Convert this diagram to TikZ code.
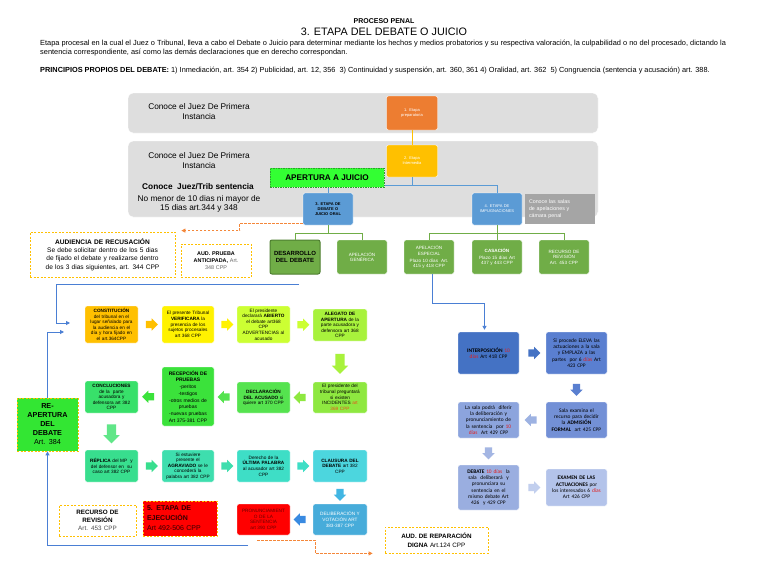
\documentclass[tikz,border=0pt]{standalone}
\usepackage{fontspec}
\setmainfont{Liberation Sans}
\newfontfamily\calibri{Carlito}
\usetikzlibrary{arrows.meta,positioning,shapes.arrows,calc}

\definecolor{bandgray}{HTML}{DEDEDE}
\definecolor{etorange}{HTML}{ED7D31}
\definecolor{gold}{HTML}{FFC000}
\definecolor{apgreen}{HTML}{33FF33}
\definecolor{apborder}{HTML}{2E9E2E}
\definecolor{stblue}{HTML}{5B9BD5}
\definecolor{salasgray}{HTML}{A5A5A5}
\definecolor{midgreen}{HTML}{70AD47}
\definecolor{ddborder}{HTML}{4E7F30}
\definecolor{lineblue}{HTML}{4A7FD4}
\definecolor{dashorange}{HTML}{F4873A}
\definecolor{incred}{HTML}{E8501C}
\definecolor{diasred}{HTML}{E02020}
\definecolor{darkred}{HTML}{6A0000}
\definecolor{fA}{HTML}{FFC000}
\definecolor{fB}{HTML}{FFF200}
\definecolor{fC}{HTML}{CCFF33}
\definecolor{fD}{HTML}{A8F23C}
\definecolor{fE}{HTML}{8EE840}
\definecolor{fF}{HTML}{55E34F}
\definecolor{fG}{HTML}{3BE23B}
\definecolor{fH}{HTML}{38E06A}
\definecolor{fI}{HTML}{38DE8E}
\definecolor{fJ}{HTML}{3EDEAE}
\definecolor{fK}{HTML}{3EDEC6}
\definecolor{fL}{HTML}{4CD6DE}
\definecolor{fM}{HTML}{47ACDA}
\definecolor{reagreen}{HTML}{33E633}
\definecolor{iA}{HTML}{4472C4}
\definecolor{iB}{HTML}{5A7FD0}
\definecolor{iC}{HTML}{7390D6}
\definecolor{iD}{HTML}{8CA4DD}
\definecolor{iE}{HTML}{9AAEE0}
\definecolor{iF}{HTML}{B3C3EA}

\begin{document}
\begin{tikzpicture}[x=1pt,y=-1pt,
  >={Triangle[length=4pt,width=4pt]},
  band/.style={fill=bandgray,draw=white,rounded corners=5pt},
  stage/.style={rounded corners=2pt,draw=white,align=center,inner sep=1pt,font=\fontsize{4}{4.8}\selectfont},
  flow/.style={rounded corners=2pt,draw=white,align=center,inner sep=1pt,font=\fontsize{4.7}{5.6}\selectfont},
  dashbox/.style={draw=gold,dash pattern=on 2pt off 1.5pt,line width=0.8pt,fill=white,align=center,inner sep=1pt},
  impbox/.style={rounded corners=2pt,draw=white,align=center,inner sep=1pt,font=\calibri\fontsize{5.4}{6.2}\selectfont},
  farrow/.style={single arrow,draw=none,inner sep=3.5pt,minimum height=12pt,single arrow head extend=2.5pt},
  bigarrow/.style={farrow,inner sep=4.5pt,single arrow head extend=3.5pt},
  bline/.style={draw=lineblue,line width=0.9pt},
  sline/.style={draw=stblue,line width=0.6pt},
  gline/.style={draw=midgreen,line width=0.7pt},
  odash/.style={draw=dashorange,dash pattern=on 2.5pt off 1.5pt,line width=0.8pt}]

  \fill[white] (0,0) rectangle (768,576);
  \useasboundingbox (0,0) rectangle (768,576);

  % Header
  \node[font=\bfseries\fontsize{7}{8}\selectfont] (proc) at (384,21) {PROCESO PENAL};
  \node[font=\fontsize{10.8}{12}\selectfont] (titulo) at (384,31.5) {3. ETAPA DEL DEBATE O JUICIO};
  \node[anchor=north west,inner sep=0pt,align=left,font=\fontsize{7.4}{9}\selectfont] (intro) at (40,40)
    {Etapa procesal en la cual el Juez o Tribunal, lleva a cabo el Debate o Juicio para determinar mediante los hechos y medios probatorios y su respectiva valoración, la culpabilidad o no del procesado, dictando la\\
     sentencia correspondiente, así como las demás declaraciones que en derecho correspondan.};
  \node[anchor=west,inner sep=0pt,font=\fontsize{7.35}{8}\selectfont] (princ) at (40,71)
    {\textbf{PRINCIPIOS PROPIOS DEL DEBATE:} 1) Inmediación, art. 354 2) Publicidad, art. 12, 356\ \ 3) Continuidad y suspensión, art. 360, 361 4) Oralidad, art. 362\ \ 5) Congruencia (sentencia y acusación) art. 388.};

  % Gray bands
  \node[band,minimum width=470,minimum height=40] (band1) at (363,113) {};
  \node[band,minimum width=470,minimum height=76] (band2) at (363,179) {};
  \node[align=center,font=\fontsize{8.3}{10}\selectfont] (juez1) at (199,112) {Conoce el Juez De Primera\\Instancia};
  \node[align=center,font=\fontsize{8.3}{10}\selectfont] (juez2) at (199,160.5) {Conoce el Juez De Primera\\Instancia};
  \node[font=\bfseries\fontsize{8.3}{10}\selectfont] (trib) at (198,187) {Conoce\ \ Juez/Trib sentencia};
  \node[align=center,font=\fontsize{8.3}{9.5}\selectfont] (plazo) at (199,204) {No menor de 10 dias ni mayor de\\15 dias art.344 y 348};

  % Stages
  \node[stage,fill=etorange,text=white,minimum width=51,minimum height=34,text width=46] (et1) at (412,113) {1. Etapa\\preparatoria};
  \node[stage,fill=gold,text=white,minimum width=51,minimum height=32,text width=46] (et2) at (412,161) {2. Etapa\\Intermedia};
  \node[stage,fill=stblue,font=\bfseries\fontsize{4}{4.8}\selectfont,minimum width=50,minimum height=32,text width=46] (et3) at (328,209) {3. ETAPA DE\\DEBATE O\\JUICIO ORAL};
  \node[stage,fill=stblue,text=white,minimum width=50,minimum height=32,text width=46] (et4) at (497,209) {4. ETAPA DE\\IMPUGNACIONES};
  \node[fill=salasgray,text=white,align=left,inner sep=3pt,minimum width=70,minimum height=30,text width=62,font=\fontsize{5.3}{7}\selectfont] (salas) at (560,209) {Conoce las salas\\de apelaciones y\\cámara penal};

  \draw[draw=gold,line width=0.7pt] (et1) -- (et2);
  \draw[sline] (et2.south) -- ++(0,8) -| (et3.north);
  \draw[sline] (et2.south) -- ++(0,8) -| (et4.north);

  \node[fill=apgreen,draw=apborder,dash pattern=on 1.5pt off 1pt,line width=0.8pt,minimum width=114,minimum height=19,inner sep=0pt,font=\bfseries\fontsize{8.2}{9}\selectfont] (apert) at (327,177.5) {APERTURA A JUICIO};

  % Green row
  \node[stage,fill=midgreen,draw=ddborder,line width=1pt,font=\bfseries\fontsize{6}{7}\selectfont,minimum width=50,minimum height=34,text width=46] (desa) at (295,257) {DESARROLLO\\DEL DEBATE};
  \node[stage,fill=midgreen,text=white,font=\fontsize{4.6}{5.5}\selectfont,minimum width=50,minimum height=34,text width=46] (apgen) at (362,257) {APELACIÓN\\GENÉRICA};
  \node[stage,fill=midgreen,text=white,font=\fontsize{4.6}{5.5}\selectfont,minimum width=50,minimum height=34,text width=46] (apesp) at (429,257) {APELACIÓN\\ESPECIAL\\[1.5pt]Plazo 10 días\ \ Art.\\415 y 418 CPP};
  \node[stage,fill=midgreen,text=white,font=\fontsize{4.6}{5.5}\selectfont,minimum width=50,minimum height=34,text width=46] (casa) at (497,257) {\textbf{CASACIÓN}\\[1.5pt]Plazo 15 días Art\\437 y 443 CPP};
  \node[stage,fill=midgreen,text=white,font=\fontsize{4.6}{5.5}\selectfont,minimum width=50,minimum height=34,text width=46] (recrev) at (564,257) {RECURSO DE\\REVISIÓN\\Art. 453 CPP};

  \draw[gline] (et3.south) -- ++(0,8) -| (desa.north);
  \draw[gline] (et3.south) -- ++(0,8) -| (apgen.north);
  \draw[gline] (et4.south) -- ++(0,8) -| (apesp.north);
  \draw[gline] (et4.south) -- (casa.north);
  \draw[gline] (et4.south) -- ++(0,8) -| (recrev.north);

  % Audiencias
  \node[dashbox,minimum width=145,minimum height=45,text width=140,font=\fontsize{6.6}{8.3}\selectfont] (recus) at (102.5,254.5)
    {\textbf{AUDIENCIA DE RECUSACIÓN}\\Se debe solicitar dentro de los 5 dias\\de fijado el debate y realizarse dentro\\de los 3 dias siguientes, art. 344 CPP};
  \node[dashbox,minimum width=70,minimum height=33,text width=64,font=\fontsize{5.4}{7}\selectfont] (antic) at (216,260.5)
    {\textbf{AUD. PRUEBA}\\\textbf{ANTICIPADA,} {\color{black!60}Art.}\\{\color{black!60}348 CPP}};
  \draw[odash,->] ([yshift=2pt]et3.south west) -- ++(-63,0) |- ([xshift=6pt,yshift=1pt]recus.north east);

  % Debate flow, row 1
  \node[flow,fill=fA,minimum width=53,minimum height=37,text width=50] (c1) at (111.5,324.5)
    {\textbf{CONSTITUCIÓN}\\del tribunal en el\\lugar señalado para\\la audiencia en el\\día y hora fijado en\\el art.364CPP};
  \node[flow,fill=fB,minimum width=52,minimum height=37,text width=50] (c2) at (188,324.5)
    {El presente Tribunal\\\textbf{VERIFICARA} la\\presencia de los\\sujetos procesales\\art 368 CPP};
  \node[flow,fill=fC,minimum width=53,minimum height=37,text width=50] (c3) at (263.5,324.5)
    {El presidente\\declarará \textbf{ABIERTO}\\el debate art368\\CPP\\ADVERTENCIAS al\\acusado};
  \node[flow,fill=fD,minimum width=54,minimum height=32,text width=51] (c4) at (340,325)
    {\textbf{ALEGATO DE}\\\textbf{APERTURA} de la\\parte acusadora y\\defensora art 368\\CPP};

  % Debate flow, row 2
  \node[flow,fill=fE,minimum width=54,minimum height=31,text width=51] (c5) at (340,397.5)
    {El presidente del\\tribunal preguntará\\si existen\\INCIDENTES {\color{incred}art}\\{\color{incred}369 CPP}};
  \node[flow,fill=fF,minimum width=53,minimum height=31,text width=50] (c6) at (263.5,397.5)
    {\textbf{DECLARACIÓN}\\\textbf{DEL ACUSADO} si\\quiere art 370 CPP};
  \node[flow,fill=fG,minimum width=52,minimum height=59,text width=50,font=\fontsize{5}{6.7}\selectfont] (c7) at (188,396.5)
    {\textbf{RECEPCIÓN DE}\\\textbf{PRUEBAS}\\-peritos\\-testigos\\-otros medios de\\pruebas\\-nuevas pruebas\\Art 375-381 CPP};
  \node[flow,fill=fH,minimum width=53,minimum height=32,text width=50] (c8) at (111.5,397)
    {\textbf{CONCLUCIONES}\\de la\ \ parte\\acusadora y\\defensora art 382\\CPP};

  % Debate flow, row 3
  \node[flow,fill=fI,minimum width=53,minimum height=32,text width=50] (c9) at (111.5,466)
    {\textbf{RÉPLICA} del MP\ \ y\\del defensor en\ \ su\\caso art 382 CPP};
  \node[flow,fill=fJ,minimum width=52,minimum height=32,text width=50] (c10) at (188,466)
    {Si estuviere\\presente el\\\textbf{AGRAVIADO} se le\\concederá la\\palabra art 382 CPP};
  \node[flow,fill=fK,minimum width=53,minimum height=32,text width=50] (c11) at (263.5,466)
    {Derecho de la\\\textbf{ÚLTIMA PALABRA}\\al acusador art 382\\CPP};
  \node[flow,fill=fL,minimum width=54,minimum height=32,text width=51] (c12) at (340,466)
    {\textbf{CLAUSURA DEL}\\\textbf{DEBATE} art 382\\CPP};

  % Debate flow, row 4
  \node[flow,fill=fM,text=white,minimum width=54,minimum height=31,text width=51] (c13) at (340,519.5)
    {DELIBERACIÓN Y\\VOTACIÓN ART\\383-387 CPP};
  \node[flow,fill=red,text=darkred,minimum width=53,minimum height=31,text width=51] (c14) at (263.5,519.5)
    {PRONUNCIAMIENT\\O DE LA\\SENTENCIA\\art 390 CPP};
  \node[dashbox,fill=red,text=black!80!red,align=left,minimum width=74,minimum height=35,text width=66,font=\fontsize{7}{10}\selectfont] (ejec) at (180,518.5)
    {\textbf{5. ETAPA DE}\\\textbf{EJECUCIÓN}\\Art 492-506 CPP};
  \node[dashbox,minimum width=77,minimum height=31,text width=72,font=\fontsize{6.3}{8}\selectfont] (rrev) at (97.5,520.5)
    {\textbf{RECURSO DE}\\\textbf{REVISIÓN}\\{\color{black!70}Art. 453 CPP}};
  \node[dashbox,minimum width=103,minimum height=26,text width=98,font=\fontsize{6.3}{9}\selectfont] (repar) at (436.5,540)
    {\textbf{AUD. DE REPARACIÓN}\\\textbf{DIGNA} Art.124 CPP};
  \node[dashbox,fill=reagreen,minimum width=61,minimum height=53,text width=56,font=\fontsize{7.2}{9}\selectfont] (reap) at (47.5,424.5)
    {\textbf{RE-}\\\textbf{APERTURA}\\\textbf{DEL}\\\textbf{DEBATE}\\Art. 384};

  % Fat arrows of the debate
  \node[farrow,fill=fA] (a12) at ($(c1.east)!0.5!(c2.west)$) {};
  \node[farrow,fill=fB] (a23) at ($(c2.east)!0.5!(c3.west)$) {};
  \node[farrow,fill=fC] (a34) at ($(c3.east)!0.5!(c4.west)$) {};
  \node[bigarrow,fill=fD,minimum height=20pt,shape border rotate=270] (a45) at ($(c4.south)!0.5!(c5.north)$) {};
  \node[farrow,fill=fE,shape border rotate=180] (a56) at ($(c5.west)!0.5!(c6.east)$) {};
  \node[farrow,fill=fF,shape border rotate=180] (a67) at ($(c6.west)!0.5!(c7.east)$) {};
  \node[farrow,fill=fG,shape border rotate=180] (a78) at ($(c7.west)!0.5!(c8.east)$) {};
  \node[bigarrow,fill=fH!80!white,minimum height=19pt,shape border rotate=270] (a89) at ($(c8.south)!0.5!(c9.north)$) {};
  \node[farrow,fill=fI] (a910) at ($(c9.east)!0.5!(c10.west)$) {};
  \node[farrow,fill=fJ] (a1011) at ($(c10.east)!0.5!(c11.west)$) {};
  \node[farrow,fill=fK] (a1112) at ($(c11.east)!0.5!(c12.west)$) {};
  \node[farrow,fill=fL!85!blue,shape border rotate=270] (a1213) at ($(c12.south)!0.5!(c13.north)$) {};
  \node[farrow,fill=fM!80!blue,shape border rotate=180] (a1314) at ($(c13.west)!0.5!(c14.east)$) {};

  % Blue loops on the left
  \coordinate (desaout) at (299,284);
  \coordinate (c1in) at (70,323);
  \coordinate (c1in2) at (64,332);
  \coordinate (pronout) at (248,545);
  \draw[bline,->] (desaout) -- (56,284) |- (c1in);
  \draw[bline,->] (reap.north) |- (c1in2);
  \draw[bline,->] (pronout) -| (reap.south);
  \draw[odash,->] ([xshift=-33pt,yshift=-5pt]c14.south east) -- ++(58,0) |- ([xshift=-12pt]repar.south west);

  % Impugnation flow
  \node[impbox,fill=iA,minimum width=61,minimum height=42,text width=57] (r1) at (488.5,353)
    {\textbf{INTERPOSICIÓN} {\color{diasred}10}\\{\color{diasred}días} Art 418 CPP};
  \node[impbox,fill=iB,minimum width=61,minimum height=42,text width=58] (r2) at (576.5,353)
    {Si procede ELEVA las\\actuaciones a la sala\\y EMPLAZA a las\\partes\ \ por 6 {\color{diasred}días} Art\\423 CPP};
  \node[impbox,fill=iC,minimum width=61,minimum height=36,text width=58] (r3) at (576.5,420)
    {Sala examina el\\recurso para decidir\\la \textbf{ADMISIÓN}\\\textbf{FORMAL}\ \ art 425 CPP};
  \node[impbox,fill=iD,minimum width=61,minimum height=36,text width=58] (r4) at (488.5,420)
    {La sala podrá\ \ diferir\\la deliberación y\\pronunciamiento de\\la sentencia\ \ por {\color{diasred}10}\\{\color{diasred}días}\ \ Art 429 CPP};
  \node[impbox,fill=iE,minimum width=61,minimum height=45,text width=58] (r5) at (488.5,487.5)
    {\textbf{DEBATE} {\color{diasred}10 días}\ \ la\\sala\ \ deliberará\ \ y\\pronunciara su\\sentencia en el\\mismo debate Art\\426\ \ y 429 CPP};
  \node[impbox,fill=iF,minimum width=61,minimum height=37,text width=58] (r6) at (576.5,487.5)
    {\textbf{EXAMEN DE LAS}\\\textbf{ACTUACIONES} por\\los interesados 6 {\color{diasred}días}\\Art 426 CPP};

  \node[farrow,fill=iA] (b12) at ($(r1.east)!0.5!(r2.west)$) {};
  \node[farrow,fill=iB,shape border rotate=270] (b23) at ($(r2.south)!0.5!(r3.north)$) {};
  \node[farrow,fill=iD!85!white,shape border rotate=180] (b34) at ($(r3.west)!0.5!(r4.east)$) {};
  \node[farrow,fill=iE!90!white,shape border rotate=270] (b45) at ($(r4.south)!0.5!(r5.north)$) {};
  \node[farrow,fill=iF!80!white] (b56) at ($(r5.east)!0.5!(r6.west)$) {};

  \draw[bline,->,shorten >=2pt] ([xshift=3pt]apesp.south) -- ++(0,29) -| ([xshift=-4pt]r1.north);
\end{tikzpicture}
\end{document}
